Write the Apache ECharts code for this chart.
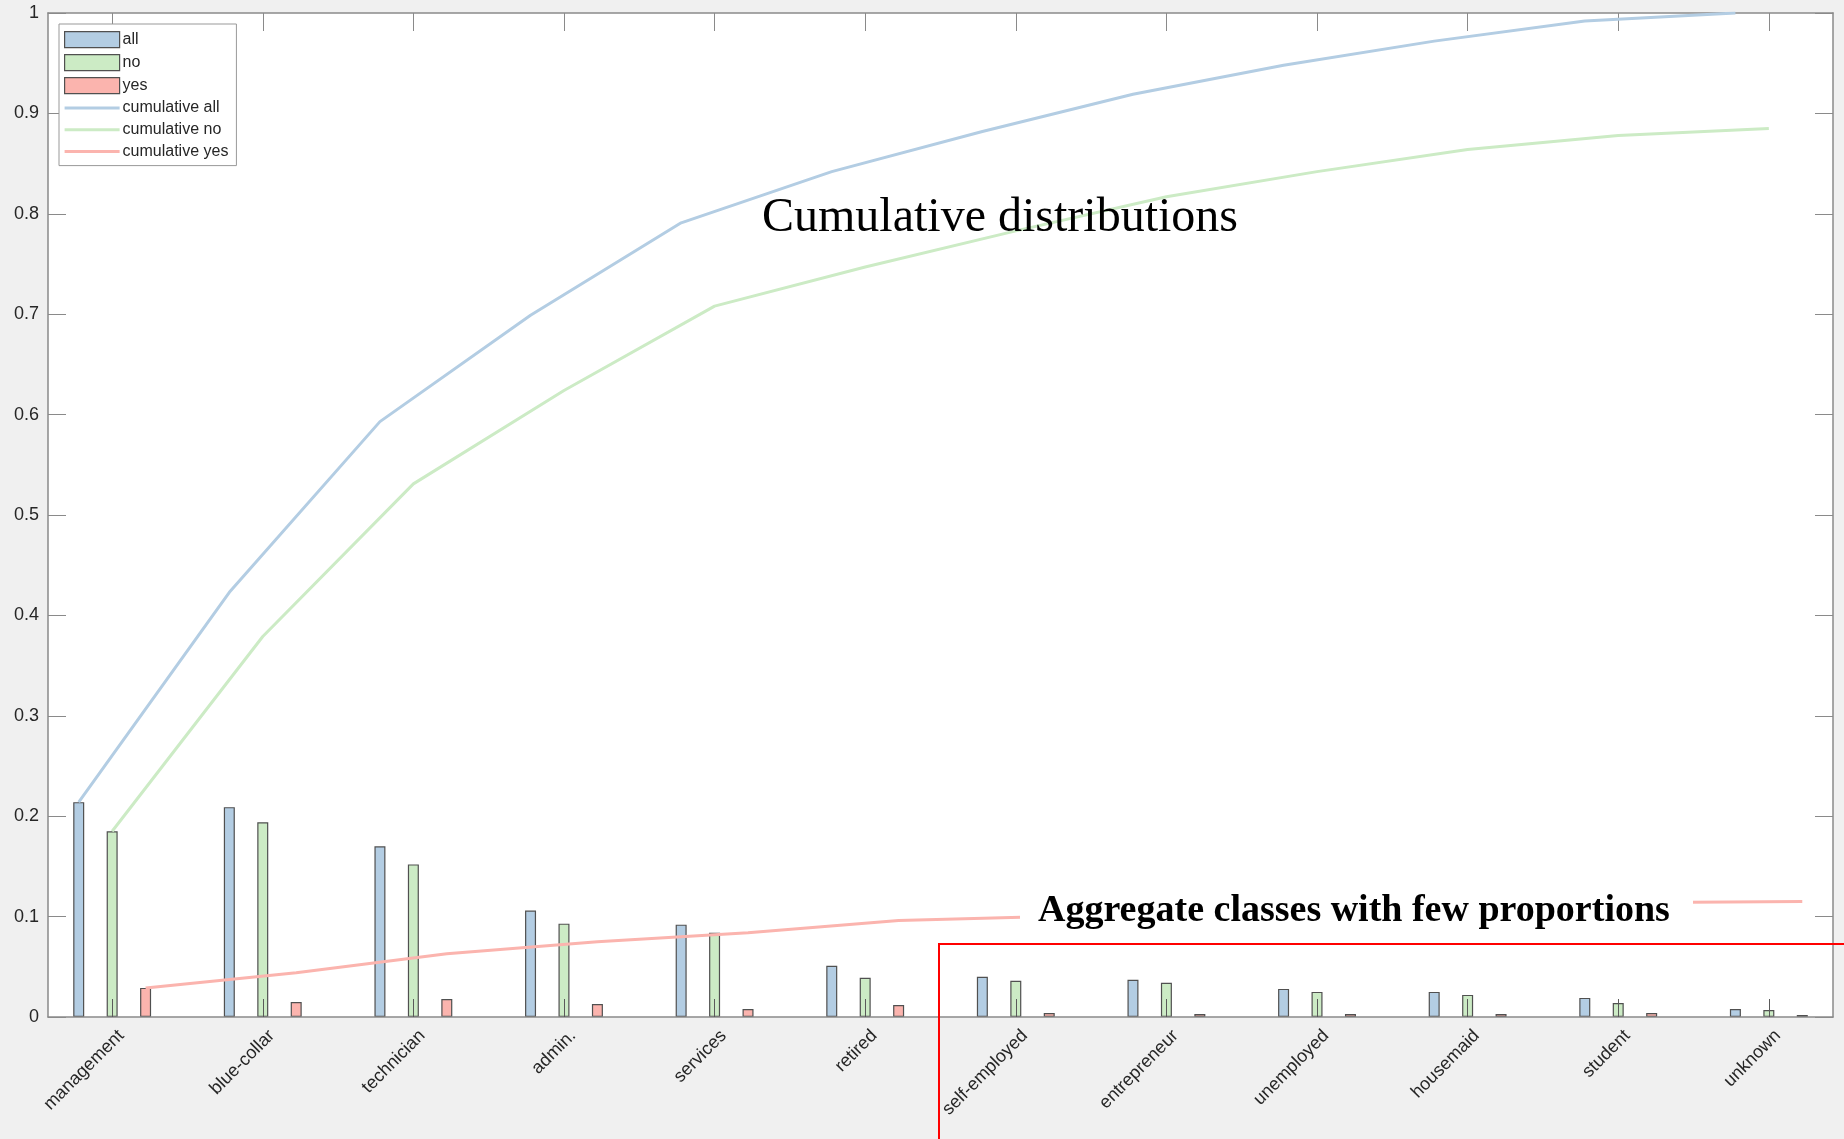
<!DOCTYPE html>
<html>
<head>
<meta charset="utf-8">
<title>Job distribution by subscription outcome</title>
<script src="https://cdn.jsdelivr.net/npm/echarts@6/dist/echarts.min.js"></script>
<style>
  html, body { margin: 0; padding: 0; background: #f0f0f0; }
  #chart { width: 1844px; height: 1139px; }
</style>
</head>
<body>
<div id="chart"></div>
<script>
// Job categories, in the order they are plotted
const jobs = ['management', 'blue-collar', 'technician', 'admin.', 'services', 'retired',
  'self-employed', 'entrepreneur', 'unemployed', 'housemaid', 'student', 'unknown'];

// Share of all clients per job (overall, and split by outcome)
const shareAll = [0.214, 0.209, 0.170, 0.106, 0.092, 0.051, 0.040, 0.037, 0.028, 0.025, 0.019, 0.008];
const shareNo  = [0.185, 0.194, 0.152, 0.093, 0.084, 0.039, 0.036, 0.034, 0.025, 0.022, 0.014, 0.007];
const shareYes = [0.029, 0.015, 0.018, 0.013, 0.008, 0.012, 0.004, 0.003, 0.003, 0.003, 0.004, 0.002];

// Cumulative shares along the job order
const cumAll = [0.214, 0.423, 0.593, 0.699, 0.791, 0.842, 0.882, 0.919, 0.948, 0.972, 0.992, 1.000];
const cumNo  = [0.185, 0.379, 0.531, 0.624, 0.708, 0.747, 0.783, 0.817, 0.842, 0.864, 0.878, 0.885];
const cumYes = [0.029, 0.044, 0.063, 0.075, 0.084, 0.096, 0.100, 0.104, 0.107, 0.110, 0.114, 0.115];

// y axis ticks
const yTicks = [0, 0.1, 0.2, 0.3, 0.4, 0.5, 0.6, 0.7, 0.8, 0.9, 1];

const COLORS = { all: '#b3cde3', no: '#ccebc5', yes: '#fbb4ae' };
const EDGE = '#505050';
const AXIS = '#8a8a8a';
const TEXT = '#262626';
const SANS = '"Liberation Sans", Arial, Helvetica, sans-serif';
const SERIF = '"Liberation Serif", "Times New Roman", serif';
// thin horizontal stroke used as the legend key of the line series
const LINE_KEY = 'path://M0,0 L55,0 L55,3 L0,3 Z';

// bars of a group sit left / centre / right of the category position
const groupOffset = 0.222;
const positions = jobs.map((_, i) => i + 1);
const xMin = 0.574, xMax = 12.426;

const barSeries = (name, values, off) => ({
  name, type: 'bar', xAxisIndex: 0, yAxisIndex: 0,
  data: values.map((v, i) => [positions[i] + off, v]),
  barWidth: 11, barGap: '-100%',
  itemStyle: { color: COLORS[name], borderColor: EDGE, borderWidth: 1.2 },
  z: 2
});
const lineSeries = (name, key, values, off) => ({
  name, type: 'line', xAxisIndex: 0, yAxisIndex: 0,
  data: values.map((v, i) => [positions[i] + off, v]),
  symbol: 'none', smooth: false,
  lineStyle: { color: COLORS[key], width: 3 },
  itemStyle: { color: COLORS[key] },
  z: 4
});

const chart = echarts.init(document.getElementById('chart'), null, { renderer: 'canvas' });

const option = {
  backgroundColor: '#f0f0f0',
  animation: false,
  grid: {
    left: 48, top: 13, right: 11, bottom: 122,
    show: true, backgroundColor: '#ffffff', borderWidth: 0
  },
  legend: {
    orient: 'vertical', left: 59, top: 24,
    padding: [7, 8, 6, 5],
    itemWidth: 55, itemHeight: 16, itemGap: 5.8,
    backgroundColor: '#ffffff', borderColor: '#999999', borderWidth: 1,
    textStyle: { fontFamily: SANS, fontSize: 16, color: TEXT, padding: [0, 0, 0, -2] },
    data: [
      { name: 'all', icon: 'rect', itemStyle: { color: COLORS.all, borderColor: EDGE, borderWidth: 1.2 } },
      { name: 'no', icon: 'rect', itemStyle: { color: COLORS.no, borderColor: EDGE, borderWidth: 1.2 } },
      { name: 'yes', icon: 'rect', itemStyle: { color: COLORS.yes, borderColor: EDGE, borderWidth: 1.2 } },
      { name: 'cumulative all', icon: LINE_KEY, itemStyle: { color: COLORS.all, borderWidth: 0 } },
      { name: 'cumulative no', icon: LINE_KEY, itemStyle: { color: COLORS.no, borderWidth: 0 } },
      { name: 'cumulative yes', icon: LINE_KEY, itemStyle: { color: COLORS.yes, borderWidth: 0 } }
    ]
  },
  xAxis: [
    {
      type: 'value', position: 'bottom', min: xMin, max: xMax, z: 3,
      axisLine: { show: true, onZero: false, lineStyle: { color: AXIS, width: 1.5 } },
      axisTick: { show: true, inside: true, length: 18, customValues: positions,
                  lineStyle: { color: '#5a5a5a', width: 1 } },
      axisLabel: {
        show: true, rotate: 45, margin: 16,
        customValues: positions.map(p => p + 0.06),
        formatter: v => jobs[Math.round(v) - 1],
        fontFamily: SANS, fontSize: 18, color: TEXT
      },
      splitLine: { show: false }
    },
    {
      type: 'value', position: 'top', min: xMin, max: xMax, z: 3,
      axisLine: { show: true, onZero: false, lineStyle: { color: AXIS, width: 1.5 } },
      axisTick: { show: true, inside: true, length: 18, customValues: positions,
                  lineStyle: { color: AXIS, width: 1 } },
      axisLabel: { show: false },
      splitLine: { show: false }
    }
  ],
  yAxis: [
    {
      type: 'value', position: 'left', min: 0, max: 1, interval: 0.1, z: 3,
      axisLine: { show: true, onZero: false, lineStyle: { color: AXIS, width: 1.5 } },
      axisTick: { show: true, inside: true, length: 18, lineStyle: { color: AXIS, width: 1 } },
      axisLabel: { show: true, margin: 9, fontFamily: SANS, fontSize: 18, color: TEXT,
                   formatter: v => String(+v.toFixed(1)) },
      splitLine: { show: false }
    },
    {
      type: 'value', position: 'right', min: 0, max: 1, interval: 0.1, z: 3,
      axisLine: { show: true, onZero: false, lineStyle: { color: AXIS, width: 1.5 } },
      axisTick: { show: true, inside: true, length: 18, lineStyle: { color: AXIS, width: 1 } },
      axisLabel: { show: false },
      splitLine: { show: false }
    }
  ],
  series: [
    barSeries('all', shareAll, -groupOffset),
    barSeries('no', shareNo, 0),
    barSeries('yes', shareYes, groupOffset),
    lineSeries('cumulative all', 'all', cumAll, -groupOffset),
    lineSeries('cumulative no', 'no', cumNo, 0),
    lineSeries('cumulative yes', 'yes', cumYes, groupOffset)
  ],
  graphic: [
    {
      type: 'text', left: 762, top: 194, z: 20,
      style: { text: 'Cumulative distributions', fontFamily: SERIF, fontSize: 48,
               fill: '#000000' }
    },
    {
      type: 'rect', z: 20,
      shape: { x: 1020, y: 886, width: 673, height: 50 },
      style: { fill: '#ffffff', stroke: null }
    },
    {
      type: 'text', left: 1038, top: 892, z: 21,
      style: { text: 'Aggregate classes with few proportions', fontFamily: SERIF,
               fontSize: 38, fontWeight: 'bold', fill: '#000000' }
    },
    {
      type: 'rect', z: 22,
      shape: { x: 939, y: 944, width: 1000, height: 400 },
      style: { fill: 'none', stroke: '#ff0000', lineWidth: 2 }
    }
  ]
};

chart.setOption(option);
</script>
</body>
</html>
